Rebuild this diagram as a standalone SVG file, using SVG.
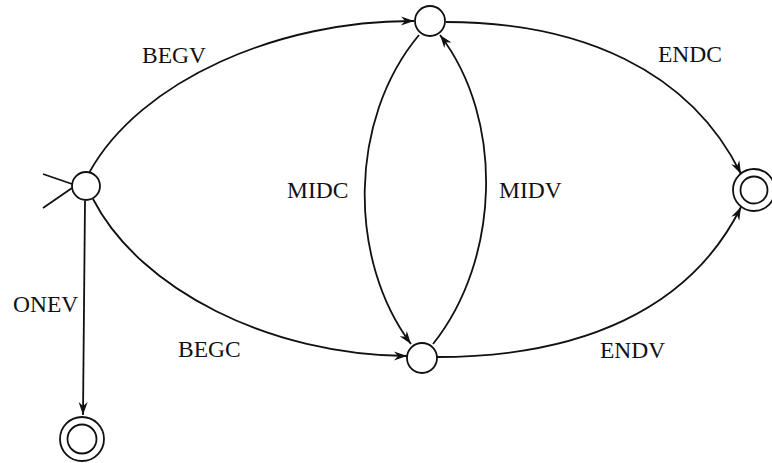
<svg xmlns="http://www.w3.org/2000/svg" width="772" height="463" viewBox="0 0 772 463">
<style>
.st{fill:none;stroke:#111;stroke-width:1.8}
.e{fill:none;stroke:#111;stroke-width:1.8}
.lb{font-family:"Liberation Serif","Times New Roman",serif;font-size:23.5px;fill:#111}
</style>
<defs>
<marker id="ah" viewBox="-14 -6 16 12" refX="0" refY="0" markerWidth="16" markerHeight="12" markerUnits="userSpaceOnUse" orient="auto">
<path d="M0,0 L-13,-4.5 L-9,0 L-13,4.5 Z" fill="#111"/>
</marker>
</defs>
<rect width="772" height="463" fill="#fff"/>
<g id="connectors">
<path id="init1" class="e" d="M43,174 L72,184"/>
<path id="init2" class="e" d="M43,208 L72,188"/>
<path id="BEGV" class="e" d="M89,173 C140,80 280,20 414,21" marker-end="url(#ah)"/>
<path id="BEGC" class="e" d="M93,199 C140,290 270,355 407,356" marker-end="url(#ah)"/>
<path id="ENDC" class="e" d="M446,22 C580,22 690,70 741,174" marker-end="url(#ah)"/>
<path id="ENDV" class="e" d="M437,357 C580,357 690,310 741,207" marker-end="url(#ah)"/>
<path id="MIDC" class="e" d="M419,35 C348,120 348,260 411,344" marker-end="url(#ah)"/>
<path id="MIDV" class="e" d="M433,344 C500,260 505,120 440,35" marker-end="url(#ah)"/>
<path id="ONEV" class="e" d="M85,201 L83,415" marker-end="url(#ah)"/>
</g>
<g id="n0"><circle class="st" cx="86" cy="186" r="14"/></g>
<g id="n1"><circle class="st" cx="430" cy="21" r="15"/></g>
<g id="n2"><circle class="st" cx="422" cy="358" r="15"/></g>
<g id="n3"><circle class="st" cx="754" cy="190" r="21"/><circle class="st" cx="754" cy="190" r="13.5"/></g>
<g id="n4"><circle class="st" cx="82" cy="439" r="22"/><circle class="st" cx="82" cy="439" r="14.5"/></g>
<g id="labels">
<text class="lb" x="142" y="63">BEGV</text>
<text class="lb" x="658" y="62">ENDC</text>
<text class="lb" x="287" y="198">MIDC</text>
<text class="lb" x="499" y="198">MIDV</text>
<text class="lb" x="13" y="312">ONEV</text>
<text class="lb" x="178" y="357">BEGC</text>
<text class="lb" x="600" y="358">ENDV</text>
</g>
</svg>
